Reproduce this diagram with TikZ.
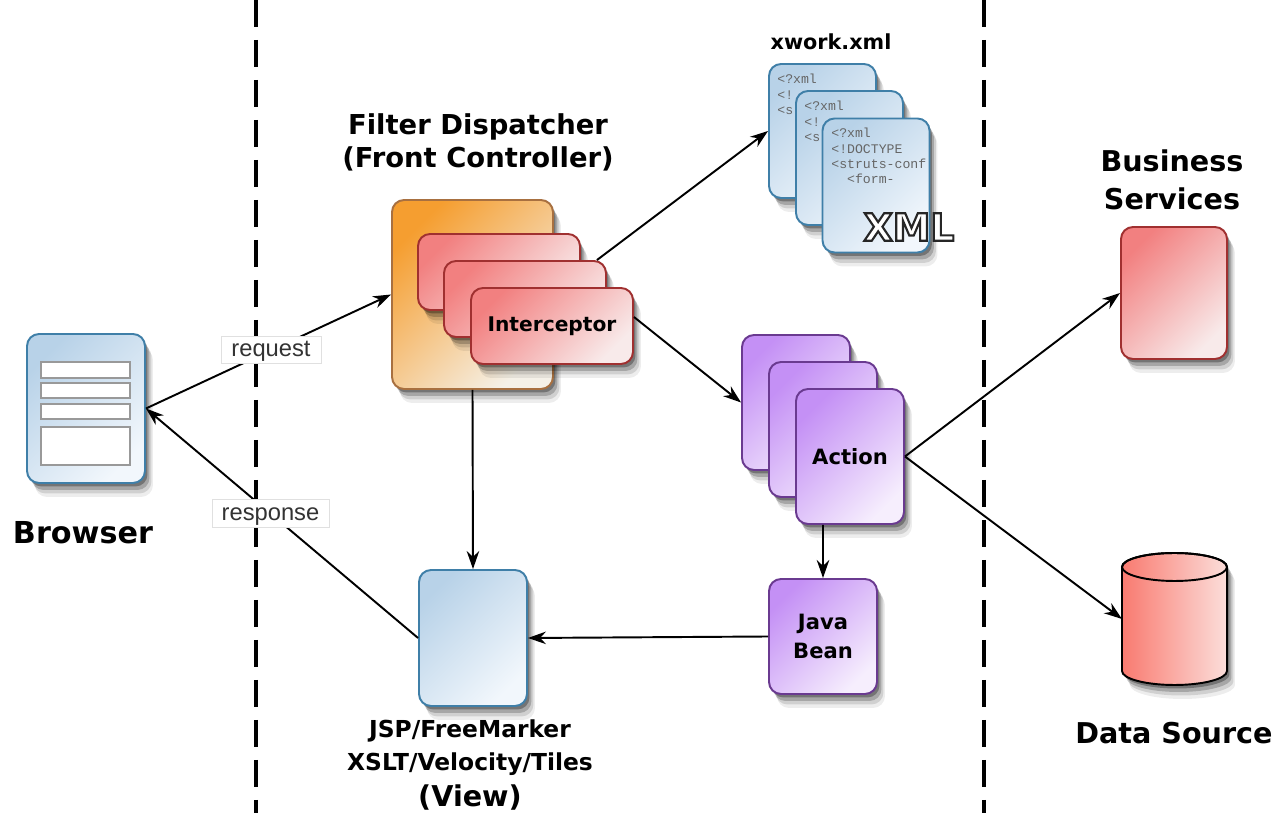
\documentclass[tikz,border=0pt]{standalone}
\usepackage{fontspec}
\setsansfont{DejaVu Sans}
\setmonofont{Liberation Mono}
\newfontfamily\labelfont{Liberation Sans}
\usetikzlibrary{shadows, arrows.meta}
\definecolor{blueedge}{HTML}{3F7FA8}
\definecolor{orangeedge}{HTML}{A87040}
\definecolor{rededge}{HTML}{A03030}
\definecolor{purpleedge}{HTML}{6A3A90}
\newcommand{\outlined}[1]{\textcolor{white}{\special{pdf:code 2 Tr 1.2 w 0.15 G}#1\special{pdf:code 0 Tr 0.4 w 0 G}}}
\tikzset{
	softshadow/.style = {general shadow = {shadow xshift = 0.16cm, shadow yshift = -0.28cm, fill = black, opacity = 0.07},
		general shadow = {shadow xshift = 0.13cm, shadow yshift = -0.21cm, fill = black, opacity = 0.12},
		general shadow = {shadow xshift = 0.09cm, shadow yshift = -0.14cm, fill = black, opacity = 0.2},
		general shadow = {shadow xshift = 0.05cm, shadow yshift = -0.07cm, fill = black, opacity = 0.3}},
	box/.style = {rectangle, rounded corners = 0.24cm, line width = 1.1pt, inner sep = 0pt, softshadow},
	bluebox/.style = {box, draw = blueedge, top color = {rgb,255:red,184;green,210;blue,232}, bottom color = {rgb,255:red,242;green,247;blue,252}, shading angle = 45},
	orangebox/.style = {box, draw = orangeedge, top color = {rgb,255:red,245;green,158;blue,48}, bottom color = {rgb,255:red,245;green,241;blue,232}, shading angle = 45},
	redbox/.style = {box, draw = rededge, top color = {rgb,255:red,242;green,128;blue,128}, bottom color = {rgb,255:red,248;green,234;blue,234}, shading angle = 45},
	purplebox/.style = {box, draw = purpleedge, top color = {rgb,255:red,196;green,144;blue,245}, bottom color = {rgb,255:red,246;green,238;blue,253}, shading angle = 45},
	field/.style = {rectangle, draw = gray!80, fill = white, line width = 0.8pt, inner sep = 0pt, minimum width = 1.78cm},
	title/.style = {align = center, inner sep = 0pt, font = \sffamily\bfseries\fontsize{16.3}{21.5}\selectfont},
	small/.style = {align = center, inner sep = 0pt, font = \sffamily\bfseries\fontsize{13.3}{18.7}\selectfont},
	doctext/.style = {anchor = north west, align = left, inner sep = 0pt, text = black!60, font = \ttfamily\fontsize{7.5}{8.7}\selectfont},
	tag/.style = {rectangle, draw = black!12, fill = white, line width = 0.4pt, inner sep = 0pt, text height = 9.5pt, text depth = 1pt, font = \labelfont\fontsize{13.5}{15}\selectfont, text = black!80},
	link/.style = {line width = 1.1pt, -{Stealth[length = 0.36cm, width = 0.25cm]}},
	lane/.style = {line width = 2pt, dash pattern = on 0.54cm off 0.26cm}
}
\begin{document}
\begin{tikzpicture}[x = 0.02cm, y = -0.02cm]
	\useasboundingbox (0,0) rectangle (1286,813);
	\coordinate (lane1top) at (256,0);
	\coordinate (lane1end) at (256,813);
	\coordinate (lane2top) at (984,0);
	\coordinate (lane2end) at (984,813);
	\draw[lane] (lane1top) -- (lane1end);
	\draw[lane] (lane2top) -- (lane2end);

	% browser
	\node[bluebox, minimum width = 2.36cm, minimum height = 2.98cm] (brow) at (86,408.5) {};
	\node[field, minimum height = 0.32cm] (field1) at (85.5,370) {};
	\node[field, minimum height = 0.30cm] (field2) at (85.5,390.5) {};
	\node[field, minimum height = 0.30cm] (field3) at (85.5,411.5) {};
	\node[field, minimum height = 0.76cm] (field4) at (85.5,446) {};
	\node[title, font = \sffamily\bfseries\fontsize{17.2}{21.5}\selectfont] (browlabel) at (83,533) {Browser};

	% filter dispatcher
	\node[title, font = \sffamily\bfseries\fontsize{15.6}{18.7}\selectfont] (filterlabel) at (478,142) {Filter Dispatcher\\(Front Controller)};
	\node[orangebox, minimum width = 3.22cm, minimum height = 3.78cm] (filter) at (472.5,294.5) {};
	\node[redbox, minimum width = 3.24cm, minimum height = 1.52cm] (ic1) at (499,272) {};
	\node[redbox, minimum width = 3.24cm, minimum height = 1.52cm] (ic2) at (525,299) {};
	\node[redbox, minimum width = 3.24cm, minimum height = 1.52cm, font = \sffamily\bfseries\fontsize{11.5}{15}\selectfont] (ic3) at (552,326) {Interceptor};

	% xwork.xml
	\node[small, font = \sffamily\bfseries\fontsize{11.8}{15}\selectfont] (xmllabel) at (831,42) {xwork.xml};
	\node[bluebox, minimum width = 2.14cm, minimum height = 2.68cm] (xml1) at (822.5,131) {};
	\node[doctext] (xml1text) at (777,74) {<?xml\\<!\\<s};
	\node[bluebox, minimum width = 2.14cm, minimum height = 2.68cm] (xml2) at (849.5,158) {};
	\node[doctext] (xml2text) at (804,101) {<?xml\\<!\\<s};
	\node[bluebox, minimum width = 2.14cm, minimum height = 2.68cm] (xml3) at (876,185.5) {};
	\node[doctext] (xml3text) at (831,128) {<?xml\\<!DOCTYPE\\<struts-conf\\\ \ <form-};
	\node[inner sep = 0pt, font = \sffamily\bfseries\fontsize{21.5}{24}\selectfont] (xmlmark) at (909,227) {\outlined{XML}};

	% actions
	\node[purplebox, minimum width = 2.16cm, minimum height = 2.7cm] (act1) at (796,402.5) {};
	\node[purplebox, minimum width = 2.16cm, minimum height = 2.7cm] (act2) at (823,429.5) {};
	\node[purplebox, minimum width = 2.16cm, minimum height = 2.7cm, align = center, font = \sffamily\bfseries\fontsize{12}{15}\selectfont] (act3) at (850,456.5) {Action};
	\node[purplebox, minimum width = 2.16cm, minimum height = 2.3cm, align = center, font = \sffamily\bfseries\fontsize{12}{16.4}\selectfont] (bean) at (823,636.5) {Java\\Bean};

	% view
	\node[bluebox, minimum width = 2.16cm, minimum height = 2.72cm] (view) at (473,638) {};
	\node[small] (viewlabel) at (470,765) {JSP/FreeMarker\\XSLT/Velocity/Tiles\\[2pt]{\fontsize{16.3}{20}\selectfont (View)}};

	% right side
	\node[title] (busilabel) at (1172,180) {Business\\Services};
	\node[redbox, minimum width = 2.12cm, minimum height = 2.64cm] (busi) at (1174,293) {};
	\coordinate (dsrc) at (1122,619);
	\path[draw = black, line width = 1.1pt, left color = {rgb,255:red,249;green,122;blue,112}, right color = {rgb,255:red,251;green,222;blue,218}, softshadow]
		(dsrc |- 0,567) -- (dsrc |- 0,671) arc [start angle = 180, end angle = 360, x radius = 1.05cm, y radius = 0.28cm]
		-- ++(0,-104) arc [start angle = 0, end angle = 180, x radius = 1.05cm, y radius = 0.28cm] -- cycle;
	\draw[line width = 1.1pt] (1174.5,567) ellipse [x radius = 1.05cm, y radius = 0.28cm];
	\node[title] (dsrclabel) at (1174,733) {Data Source};

	% connectors
	\draw[link] (brow.east) -- (filter.west);
	\draw[link] (view.west) -- (brow.east);
	\draw[link] (filter.south) -- (view.north);
	\draw[link] ([xshift = -0.2cm] ic2.north east) -- (xml1.west);
	\draw[link] ([yshift = 0.18cm] ic3.east) -- (act1.west);
	\draw[link] ([xshift = -0.54cm] act3.south) -- (bean.north);
	\draw[link] (bean.west) -- (view.east);
	\draw[link] (act3.east) -- (busi.west);
	\draw[link] (act3.east) -- (dsrc);

	% tags over the lines
	\node[tag, minimum width = 2cm, minimum height = 0.54cm] (reqtag) at (271,349.5) {request};
	\node[tag, minimum width = 2.34cm, minimum height = 0.56cm] (resptag) at (270.5,513) {response};
\end{tikzpicture}
\end{document}
